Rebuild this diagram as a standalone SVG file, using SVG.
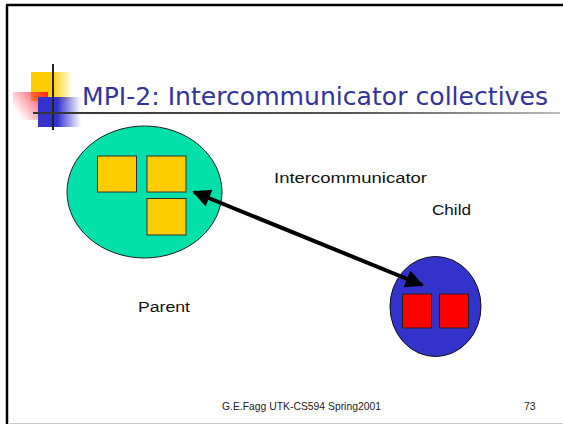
<svg xmlns="http://www.w3.org/2000/svg" width="563" height="424" viewBox="0 0 563 424">
<style>
.lbl{font-family:"Liberation Sans",Arial,sans-serif;font-size:15.5px;fill:#111}
.foot{font-family:"Liberation Sans",Arial,sans-serif;font-size:10.5px;fill:#222}
.title{font-family:"DejaVu Sans","Liberation Sans",sans-serif;font-size:25px;fill:#333399}
.ysq{fill:#FFCC00;stroke:#333;stroke-width:1}
.rsq{fill:#FF0000;stroke:#222;stroke-width:1}
</style>
<defs>
<linearGradient id="gy" x1="0" x2="1" y1="0" y2="0"><stop offset="0" stop-color="#FFCC00"/><stop offset="0.5" stop-color="#FFCC00"/><stop offset="1" stop-color="#FFCC00" stop-opacity="0"/></linearGradient>
<linearGradient id="gr" x1="1" x2="0" y1="0" y2="0.6"><stop offset="0" stop-color="#FF2020"/><stop offset="1" stop-color="#FF4060" stop-opacity="0"/></linearGradient>
<linearGradient id="gb" x1="0" x2="1" y1="0" y2="0"><stop offset="0" stop-color="#3333CC"/><stop offset="0.45" stop-color="#3333CC"/><stop offset="1" stop-color="#3333CC" stop-opacity="0"/></linearGradient>
<linearGradient id="gl" gradientUnits="userSpaceOnUse" x1="33" y1="0" x2="560" y2="0"><stop offset="0" stop-color="#333"/><stop offset="0.6" stop-color="#555"/><stop offset="1" stop-color="#bbb"/></linearGradient>
<marker id="ah" viewBox="0 0 10 10" refX="9" refY="5" markerWidth="5" markerHeight="4.5" orient="auto-start-reverse" markerUnits="strokeWidth"><path d="M0,0 L10,5 L0,10 z" fill="#000"/></marker>
</defs>
<rect width="563" height="424" fill="#fff"/>
<g id="frame">
<line x1="7" y1="5" x2="7" y2="424" stroke="#000" stroke-width="2.5"/>
<line x1="6" y1="5" x2="563" y2="5" stroke="#000" stroke-width="2.5"/>
<line x1="8" y1="423.5" x2="563" y2="423.5" stroke="#ccc" stroke-width="1"/>
</g>
<g id="logo">
<rect x="31" y="72" width="42" height="29" fill="url(#gy)"/>
<rect x="13" y="92" width="35" height="28" fill="url(#gr)"/>
<rect x="38" y="97" width="43" height="30" fill="url(#gb)"/>
<line x1="53" y1="64" x2="53" y2="130" stroke="#222" stroke-width="2"/>
<rect x="33" y="112" width="527" height="2" fill="url(#gl)"/>
</g>
<text class="title" x="82" y="105" textLength="466" lengthAdjust="spacingAndGlyphs">MPI-2: Intercommunicator collectives</text>
<g id="parent">
<ellipse cx="144.5" cy="192" rx="77.5" ry="66" fill="#00E0A8" stroke="#222" stroke-width="1"/>
<rect class="ysq" x="97.5" y="156" width="39" height="36"/>
<rect class="ysq" x="147" y="156" width="39" height="36"/>
<rect class="ysq" x="147" y="198.5" width="39" height="36.5"/>
</g>
<g id="child">
<ellipse cx="435.5" cy="306.5" rx="45.5" ry="50" fill="#3333CC" stroke="#111" stroke-width="1"/>
<rect class="rsq" x="402.5" y="294" width="29" height="34"/>
<rect class="rsq" x="439.5" y="294" width="29" height="34"/>
</g>
<g id="connectors">
<line x1="194" y1="192" x2="422" y2="285" stroke="#000" stroke-width="4" marker-start="url(#ah)" marker-end="url(#ah)"/>
</g>
<text class="lbl" x="274" y="183" textLength="153" lengthAdjust="spacingAndGlyphs">Intercommunicator</text>
<text class="lbl" x="432" y="215" textLength="39" lengthAdjust="spacingAndGlyphs">Child</text>
<text class="lbl" x="138" y="312" textLength="52" lengthAdjust="spacingAndGlyphs">Parent</text>
<text class="foot" x="222" y="410" textLength="159" lengthAdjust="spacingAndGlyphs">G.E.Fagg UTK-CS594 Spring2001</text>
<text class="foot" x="524" y="410">73</text>
</svg>
